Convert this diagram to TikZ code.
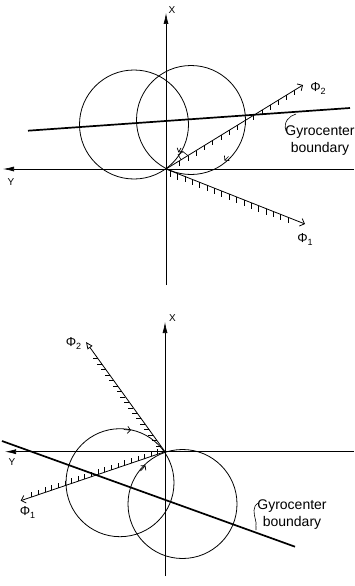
\documentclass[tikz,border=0pt]{standalone}
\usepackage{fontspec}
\setmainfont{Liberation Sans}
\usetikzlibrary{arrows.meta, calc}
\tikzstyle{axis} = [line width=0.7pt, -{Latex[length=11pt,width=5pt]}]
\tikzstyle{orbit} = [line width=0.8pt]
\tikzstyle{boundary} = [line width=1.7pt]
\tikzstyle{philine} = [line width=0.8pt, -{Straight Barb[length=4pt,width=8pt]}]
\tikzstyle{phiopen} = [line width=0.8pt, -{Triangle[open,length=7pt,width=6pt]}]
\tikzstyle{hatch} = [line width=0.6pt]
\tikzstyle{spin} = [line width=0.7pt, -{Straight Barb[length=3pt,width=7pt]}]
\tikzstyle{leader} = [line width=0.6pt]
\tikzstyle{lbl} = [inner sep=0pt, align=center, font=\fontsize{14}{17}\selectfont]
\tikzstyle{axlbl} = [inner sep=0pt, font=\fontsize{10}{12}\selectfont]
\tikzstyle{philbl} = [inner sep=0pt, font=\fontsize{13}{15}\selectfont]
\newcommand{\phisub}[1]{Φ\raisebox{-0.4ex}{\fontsize{9}{9}\selectfont #1}}

\begin{document}
\begin{tikzpicture}[x=1pt, y=-1pt]
        \useasboundingbox (0,0) rectangle (354,586);

        % Upper figure
        \coordinate (O1) at (166,169);
        \coordinate (X1) at (166,13);
        \coordinate (X1b) at (166,285);
        \coordinate (Y1) at (3,169);
        \coordinate (Y1b) at (354,169);
        \coordinate (CL1) at (134,124.5);
        \coordinate (CR1) at (191,120);
        \coordinate (B1a) at (28,130.7);
        \coordinate (B1b) at (350,108);
        \coordinate (P2a) at (303,85);
        \coordinate (P1a) at (305,224);

        \draw[axis] (X1b) -- (X1);
        \draw[axis] (Y1b) -- (Y1);
        \node[axlbl] (xa) at (172,10) {X};
        \node[axlbl] (ya) at (11,182.5) {Y};

        \draw[orbit] (CL1) circle[radius=54.5pt];
        \draw[orbit] (CR1) circle[radius=54.5pt];
        \draw[boundary] (B1a) -- (B1b);

        \draw[philine] (O1) -- (P2a);
        \draw[philine] (O1) -- (P1a);
        \foreach \t in {0.1,0.16,...,0.95}
            \draw[hatch] ($(O1)!\t!(P2a)$) -- ++(0,5);
        \foreach \t in {0.03,0.083,...,0.93}
            \draw[hatch] ($(O1)!\t!(P1a)$) -- ++(0,6);
        \draw[hatch] ($(O1)!0.11!(P2a)$) -- ++(-3,-5) -- ++(5,-3) -- ($(O1)!0.16!(P2a)$);
        \node[philbl] (phi2a) at (318,88.5) {\phisub{2}};
        \node[philbl] (phi1a) at (305,239.5) {\phisub{1}};

        % Arrows on the orbits
        \coordinate (s1a) at (181,148);
        \coordinate (s1b) at (178.5,152.5);
        \coordinate (s2a) at (228.5,156.5);
        \coordinate (s2b) at (224.5,160.5);
        \draw[spin] (s1a) -- (s1b);
        \draw[spin] (s2a) -- (s2b);

        \node[lbl, anchor=north] (gyro1) at (320,126) {Gyrocenter\\boundary};
        \coordinate (g1a) at (286,131);
        \coordinate (g1b) at (296,114);
        \draw[leader] (g1a) .. controls (283,122) and (289,116) .. (g1b);

        % Lower figure
        \coordinate (O2) at (165,451.7);
        \coordinate (X2) at (165,322);
        \coordinate (X2b) at (165,576);
        \coordinate (Y2) at (5,451.7);
        \coordinate (Y2b) at (354,451.7);
        \coordinate (CL2) at (120,482.7);
        \coordinate (CR2) at (182.5,504);
        \coordinate (B2a) at (2,441);
        \coordinate (B2b) at (295,546.7);
        \coordinate (Q2a) at (86,342);
        \coordinate (Q1a) at (20.7,500.7);

        \draw[axis] (X2b) -- (X2);
        \draw[axis] (Y2b) -- (Y2);
        \node[axlbl] (xb) at (172.5,318) {X};
        \node[axlbl] (yb) at (12,462.5) {Y};

        \draw[orbit] (CL2) circle[radius=54pt];
        \draw[orbit] (CR2) circle[radius=54.5pt];
        \draw[boundary] (B2a) -- (B2b);

        \draw[phiopen] (O2) -- (Q2a);
        \draw[philine] (O2) -- (Q1a);
        \foreach \t in {0.05,0.1,...,0.9}
            \draw[hatch] ($(O2)!\t!(Q2a)$) -- ++(-5,0);
        \foreach \t in {0.05,0.096,...,0.94}
            \draw[hatch] ($(O2)!\t!(Q1a)$) -- ++(0,-5);
        \node[philbl] (phi2b) at (73.5,343.5) {\phisub{2}};
        \node[philbl] (phi1b) at (27.5,512.5) {\phisub{1}};

        % Arrows on the orbits
        \coordinate (s3a) at (124,429.5);
        \coordinate (s3b) at (131,430.2);
        \coordinate (s4a) at (140.5,471);
        \coordinate (s4b) at (145.5,465.5);
        \draw[spin] (s3a) -- (s3b);
        \draw[spin] (s4a) -- (s4b);

        \node[lbl, anchor=north] (gyro2) at (292,500) {Gyrocenter\\boundary};
        \coordinate (g2a) at (258.5,503);
        \coordinate (g2b) at (256,530);
        \draw[leader] (g2a) .. controls (252,506) and (254,514) .. (255.5,520) .. controls (257,524) and (255,527) .. (g2b);
    \end{tikzpicture}
\end{document}
